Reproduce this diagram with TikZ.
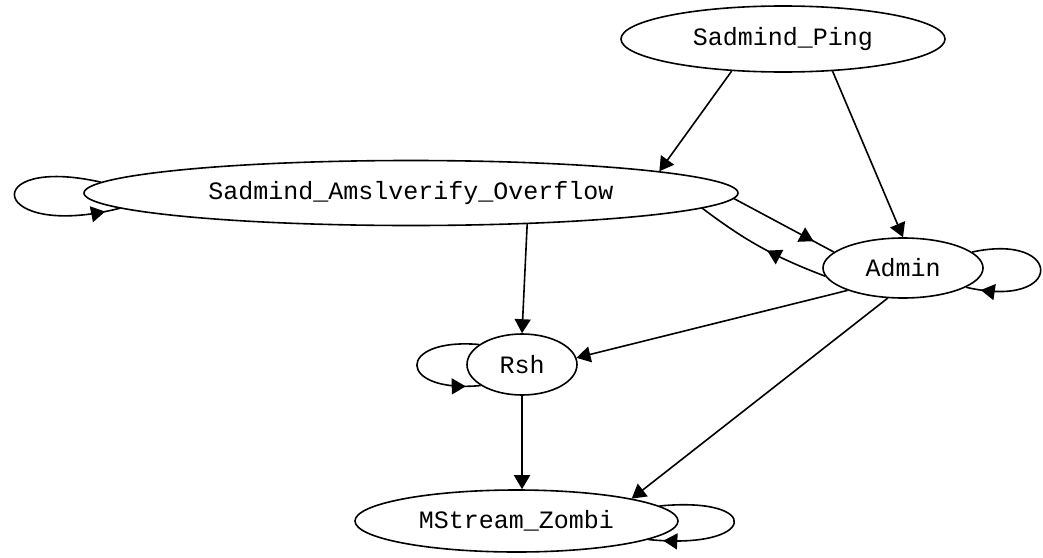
\documentclass[tikz,border=0pt]{standalone}
\usepackage{fontspec}
\setmonofont{Liberation Mono}
\usetikzlibrary{arrows.meta,decorations.markings,shapes.geometric}

\tikzset{
  state/.style={ellipse, draw, line width=1.6pt, inner sep=0pt,
    font=\ttfamily\fontsize{25}{30}\selectfont},
  link/.style={line width=1.6pt, -{Triangle[length=14pt,width=16pt]}},
  midarrow/.style={line width=1.6pt, postaction={decorate},
    decoration={markings, mark=at position #1 with {\arrow{Triangle[length=14pt,width=16pt]}}}},
}

\begin{document}
\begin{tikzpicture}[x=1pt, y=-1pt]
  \useasboundingbox (0,0) rectangle (1043,557);

  % Etats
  \node[state, minimum width=324pt, minimum height=66pt] (ping) at (783,39) {Sadmind\_Ping};
  \node[state, minimum width=654pt, minimum height=65pt] (amsl) at (411,193) {Sadmind\_Amslverify\_Overflow};
  \node[state, minimum width=160pt, minimum height=60pt] (admin) at (903,268) {Admin};
  \node[state, minimum width=110pt, minimum height=61pt] (rsh) at (522,364.5) {Rsh};
  \node[state, minimum width=323pt, minimum height=62pt] (zombi) at (516.5,521) {MStream\_Zombi};

  % Transitions
  \draw[link] (ping.212) -- (amsl.5.75);
  \draw[link] (ping.-33) -- (admin.north);
  \draw[midarrow=-23pt] (amsl.-1) -- (admin.167);
  \draw[midarrow=0.45] (admin.186) to[bend left=8] (amsl.-3);
  \draw[link] (amsl.-15.8) -- (rsh.north);
  \draw[link] (admin.202) -- (rsh.7);
  \draw[link] (admin.243) -- (zombi.11);
  \draw[link] (rsh.south) -- (zombi.north -| rsh.south);

  % Boucles
  \draw[midarrow=-15pt] (amsl.178) .. controls +(-124,-28) and +(-131,33) .. (amsl.183);
  \draw[midarrow=-15pt] (admin.13) .. controls +(92,-20) and +(99,23) .. (admin.-17);
  \draw[midarrow=-15pt] (rsh.155) .. controls +(-84,-7) and +(-84,8) .. (rsh.207);
  \draw[midarrow=-15pt] (zombi.6.5) .. controls +(105,-10) and +(109,11) .. (zombi.-8.3);

\end{tikzpicture}
\end{document}
